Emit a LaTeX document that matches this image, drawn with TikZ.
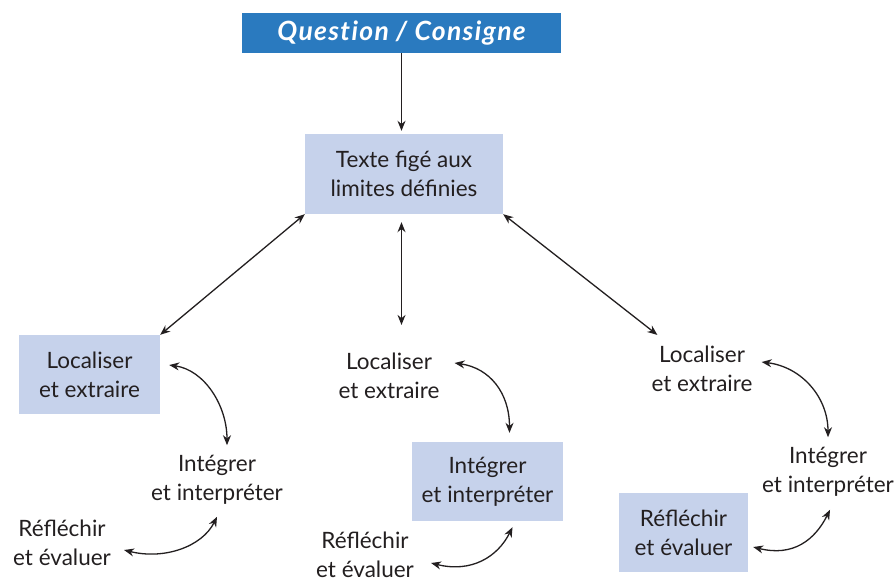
\documentclass[tikz,border=0pt]{standalone}
\usepackage{fontspec}
\setmainfont{Lato}
\usetikzlibrary{arrows.meta,calc}
\definecolor{titleblue}{HTML}{2A7ABF}
\definecolor{boxblue}{HTML}{C6D2EB}
\definecolor{ink}{HTML}{231F20}
\begin{document}
\begin{tikzpicture}[x=1pt,y=-1pt,
  txt/.style={align=center,font=\fontsize{22.5}{29}\selectfont,text=ink,inner sep=0pt},
  box/.style={txt,fill=boxblue},
  titlebox/.style={fill=titleblue,text=white,font=\fontsize{26.5}{30}\selectfont\bfseries\itshape\addfontfeature{LetterSpace=5,Ligatures=NoCommon},inner sep=0pt},
  arr/.style={draw=ink,line width=1.3pt,-{Stealth[length=10pt,width=8pt]}},
  darr/.style={draw=ink,line width=1.3pt,{Stealth[length=10pt,width=8pt]}-{Stealth[length=10pt,width=8pt]}}
]
\fill[white] (0,0) rectangle (896,581);
\path[use as bounding box] (0,0) rectangle (896,581);
% nodes
\node[titlebox,minimum width=319pt,minimum height=40pt] (Q) at (401.5,33) {Question / Consigne};
\node[box,minimum width=198pt,minimum height=80pt] (T) at (404,174) {Texte figé aux\\limites définies};
\node[box,minimum width=141pt,minimum height=79pt] (L1) at (89.5,374.5) {Localiser\\et extraire};
\node[txt] (I1) at (217,480) {Intégrer\\et interpréter};
\node[txt] (R1) at (62,543) {Réfléchir\\et évaluer};
\node[txt] (L2) at (389,376) {Localiser\\et extraire};
\node[box,minimum width=151pt,minimum height=79pt] (I2) at (487.5,481.5) {Intégrer\\et interpréter};
\node[txt] (R2) at (365,555) {Réfléchir\\et évaluer};
\node[txt] (L3) at (702,369) {Localiser\\et extraire};
\node[txt] (I3) at (828,472) {Intégrer\\et interpréter};
\node[box,minimum width=129pt,minimum height=79pt] (R3) at (683.5,532.5) {Réfléchir\\et évaluer};
% straight connectors
\draw[arr,shorten >=3pt] (Q.south) -- (Q.south |- T.north);
\draw[darr] (T.south west) -- (L1.north east);
\draw[darr,shorten <=8pt,shorten >=28pt] (Q.south |- T.south) -- (Q.south |- L2.north);
\draw[darr] (T.south east) -- ($(L3.north west)+(6,-11)$);
% curved connectors
\draw[darr] ($(L1.east)+(9,-9.5)$) .. controls +(35,5) and +(0,-40) .. ($(I1.north)+(10,-10)$);
\draw[darr] ($(I1.south)+(0,12)$) .. controls +(-15,30) and +(40,10) .. ($(R1.east)+(13,7)$);
\draw[darr] ($(L2.east)+(15,-13)$) .. controls +(35,5) and +(0,-40) .. ($(I2.north)+(22,-9)$);
\draw[darr] ($(I2.south)+(25,6)$) .. controls +(-15,30) and +(40,10) .. ($(R2.east)+(17,8)$);
\draw[darr] ($(L3.east)+(9,-7)$) .. controls +(40,5) and +(0,-40) .. ($(I3.north)+(0,-10)$);
\draw[darr] ($(I3.south)+(2,13)$) .. controls +(-15,30) and +(40,10) .. ($(R3.east)+(5,14.5)$);
\end{tikzpicture}
\end{document}
